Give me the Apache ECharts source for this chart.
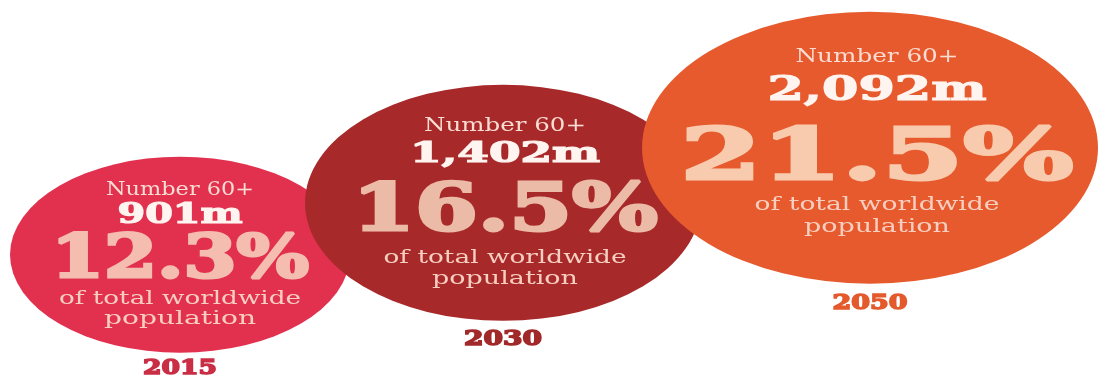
<!DOCTYPE html>
<html>
<head>
<meta charset="utf-8">
<script src="https://cdn.jsdelivr.net/npm/echarts@6/dist/echarts.min.js"></script>
<style>
  html, body { margin: 0; padding: 0; background: #ffffff; }
  #chart { width: 1099px; height: 378px; }
</style>
</head>
<body>
<div id="chart"></div>
<script>
// ---- data ----
const years = ['2015', '2030', '2050'];
const olderMillions = [901, 1402, 2092];
const sharePct = [12.3, 16.5, 21.5];
const topCaption = 'Number 60+';
const bottomCaption = ['of total worldwide', 'population'];

// ---- styles ----
const bubbleColors = ['#E1314F', '#A8292A', '#E65A2D'];
const yearColors = ['#C92E45', '#A2292A', '#E45A2C'];
const pctColors = ['#F4BDB0', '#ECBBA7', '#F9CBAE'];
const radii = [[170, 98], [198, 118], [228, 136]];
const nudge = [[0, 0], [-22, -3], [0, 0]];
// per bubble: text x shift, dy of lines [top, number, pct, sub1, sub2, year], font sizes, target widths
const layout = [
  { tdx: 0, dy: [-64, -39, 7, 45, 65, 114], fs: [18, 27, 59, 18, 20], w: [148, 125, 258, 242, 152, 74] },
  { tdx: 2, dy: [-77, -48, 10, 55, 76, 137], fs: [18, 27, 66, 18, 20], w: [162, 190, 306, 243, 146, 78] },
  { tdx: 7, dy: [-90, -57, 13, 58, 80, 156], fs: [18, 34, 71, 18, 20], w: [163, 219, 393, 245, 146, 75] }
];
const SERIF = "'DejaVu Serif', serif";

const measureCtx = document.createElement('canvas').getContext('2d');
function fitText(text, font, targetW) {
  measureCtx.font = font;
  const w = measureCtx.measureText(text).width || 1;
  return targetW / w;
}
function txt(text, x, y, font, fill, targetW, weight) {
  const style = { text: text, x: 0, y: 0, font: font, fill: fill, align: 'center', verticalAlign: 'middle' };
  if (weight) { style.stroke = fill; style.lineWidth = weight; style.lineJoin = 'round'; }
  return { type: 'text', x: x, y: y, scaleX: fitText(text, font, targetW), style: style };
}

const chart = echarts.init(document.getElementById('chart'));
chart.setOption({
  backgroundColor: '#ffffff',
  animation: false,
  grid: { left: 180, right: 229, top: 0, bottom: 0 },
  xAxis: { type: 'category', data: years, boundaryGap: false, show: false },
  yAxis: { type: 'value', min: 1.7, max: 34.2, show: false },
  series: [{
    type: 'custom',
    clip: false,
    encode: { x: 0, y: 1 },
    data: years.map((y, i) => [i, sharePct[i], olderMillions[i]]),
    renderItem: function (params, api) {
      const i = params.dataIndex;
      const p = api.coord([api.value(0), api.value(1)]);
      const cx = p[0] + nudge[i][0];
      const cy = p[1] + nudge[i][1];
      const L = layout[i];
      const tx = cx + L.tdx;
      const numText = Number(api.value(2)).toLocaleString('en-US') + 'm';
      const pctText = Number(api.value(1)).toFixed(1) + '%';
      const fTop = 'normal ' + L.fs[0] + 'px ' + SERIF;
      const fNum = 'bold ' + L.fs[1] + 'px ' + SERIF;
      const fPct = 'bold ' + L.fs[2] + 'px ' + SERIF;
      const fSub = 'normal ' + L.fs[3] + 'px ' + SERIF;
      const fYear = 'bold ' + L.fs[4] + 'px ' + SERIF;
      return {
        type: 'group',
        children: [
          { type: 'circle', x: cx, y: cy, scaleX: radii[i][0], scaleY: radii[i][1],
            shape: { cx: 0, cy: 0, r: 1 }, style: { fill: bubbleColors[i] } },
          txt(topCaption, tx, cy + L.dy[0], fTop, '#FADCD2', L.w[0]),
          txt(numText, tx, cy + L.dy[1], fNum, '#FFF4EF', L.w[1], 1.2),
          txt(pctText, tx, cy + L.dy[2], fPct, pctColors[i], L.w[2], 3),
          txt(bottomCaption[0], tx, cy + L.dy[3], fSub, '#F7CEC0', L.w[3]),
          txt(bottomCaption[1], tx, cy + L.dy[4], fSub, '#F7CEC0', L.w[4]),
          txt(years[i], cx, cy + L.dy[5], fYear, yearColors[i], L.w[5], 1.5)
        ]
      };
    }
  }]
});
</script>
</body>
</html>
